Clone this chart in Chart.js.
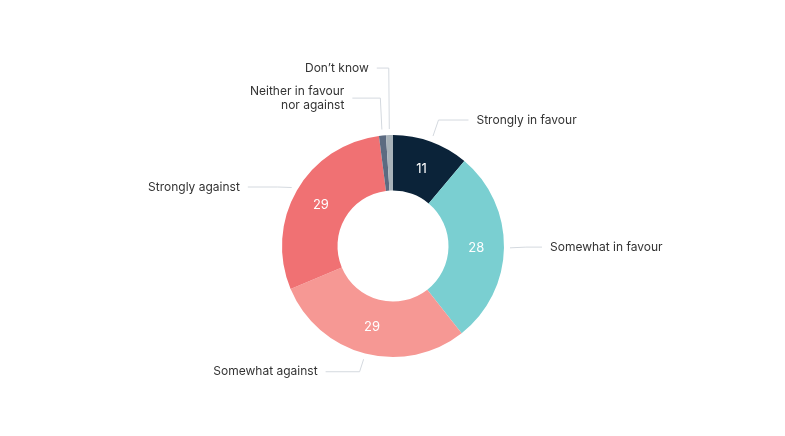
<!DOCTYPE html>
<html>
<head>
<meta charset="utf-8">
<script src="https://cdn.jsdelivr.net/npm/chart.js@4.4.1/dist/chart.umd.min.js"></script>
<style>
  html, body { margin: 0; background: #fff; }
</style>
</head>
<body>
<canvas id="chart" width="785" height="436"></canvas>
<script>
const categories = ['Strongly in favour', 'Somewhat in favour', 'Somewhat against', 'Strongly against', 'Neither in favour\nnor against', 'Don’t know'];
const values = [11, 28, 29, 29, 1, 1];
const colours = ['#0b2339', '#7acfd1', '#f69894', '#f07173', '#5c6b81', '#a9b3ba'];

// connector tweaks: vertical shift of the label and length of the horizontal run
const connectors = [
  { dy: -1, h: 30 },
  { dy: -1, h: 16 },
  { dy: -3, h: 34 },
  { dy: 7.5, h: 30 },
  { dy: -15.5, h: 28 },
  { dy: -45, h: 12 }
];

const sliceLabels = {
  id: 'sliceLabels',
  afterDatasetsDraw(chart) {
    const ctx = chart.ctx;
    const meta = chart.getDatasetMeta(0);
    ctx.save();
    meta.data.forEach((arc, i) => {
      const { x, y, startAngle, endAngle, outerRadius } =
        arc.getProps(['x', 'y', 'startAngle', 'endAngle', 'outerRadius'], true);
      const mid = (startAngle + endAngle) / 2;
      const cos = Math.cos(mid), sin = Math.sin(mid);

      if (values[i] >= 5) {
        const p = arc.tooltipPosition(true);
        ctx.fillStyle = '#ffffff';
        ctx.font = '13px Inter';
        ctx.textAlign = 'center';
        ctx.textBaseline = 'middle';
        ctx.fillText(values[i], p.x, p.y + 1);
      }

      const c = connectors[i];
      const side = cos >= 0 ? 1 : -1;
      const ax = x + cos * (outerRadius + 6), ay = y + sin * (outerRadius + 6);
      const ex = x + cos * (outerRadius + 22);
      const ey = y + sin * (outerRadius + 22) + c.dy;
      const endX = ex + side * c.h;

      ctx.strokeStyle = '#d4d9df';
      ctx.lineWidth = 1;
      ctx.beginPath();
      ctx.moveTo(ax, ay);
      ctx.lineTo(ex, ey);
      ctx.lineTo(endX, ey);
      ctx.stroke();

      const lines = categories[i].split('\n');
      const lh = 14;
      ctx.fillStyle = '#333333';
      ctx.font = '12px Inter';
      ctx.textAlign = side > 0 ? 'left' : 'right';
      ctx.textBaseline = 'middle';
      lines.forEach((t, k) => {
        ctx.fillText(t, endX + side * 8, ey + (k - (lines.length - 1) / 2) * lh);
      });
    });
    ctx.restore();
  }
};

new Chart(document.getElementById('chart'), {
  type: 'doughnut',
  data: {
    labels: categories,
    datasets: [{
      data: values,
      backgroundColor: colours,
      borderWidth: 0
    }]
  },
  options: {
    responsive: false,
    animation: false,
    cutout: '50%',
    layout: { padding: { left: 282, right: 281, top: 135, bottom: 79 } },
    plugins: {
      legend: { display: false },
      tooltip: { enabled: false }
    },
    events: []
  },
  plugins: [sliceLabels]
});
</script>
</body>
</html>
